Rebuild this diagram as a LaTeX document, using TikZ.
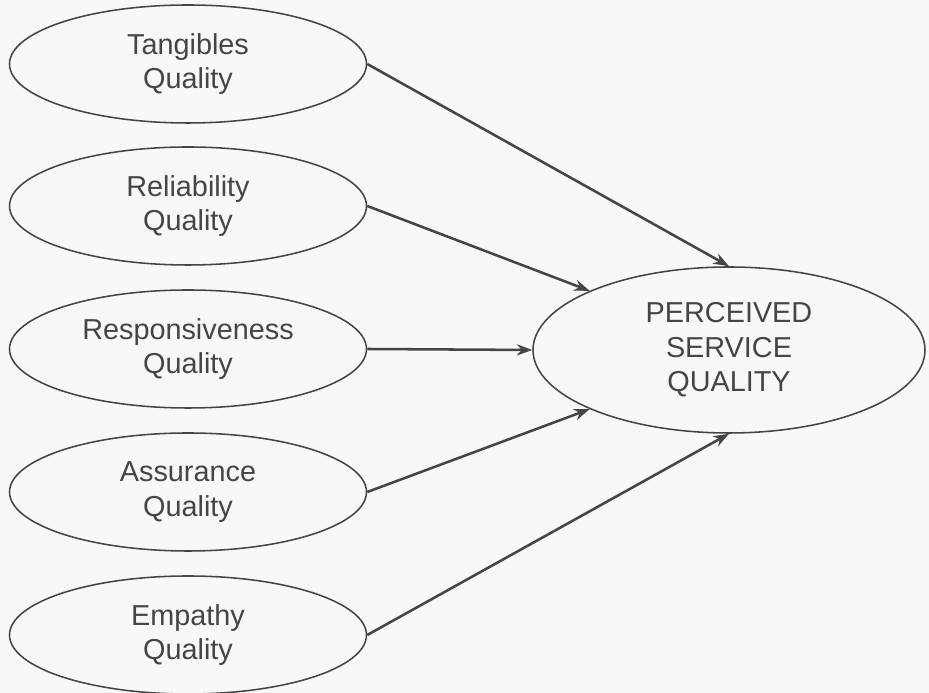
\documentclass[tikz,border=0pt]{standalone}
\usepackage{fontspec}
\setmainfont{Liberation Sans}
\usepackage{xcolor}
\usepackage{tikz}
\usetikzlibrary{shapes.geometric,arrows.meta}

\definecolor{inkgray}{HTML}{454545}
\definecolor{papergray}{HTML}{F8F8F6}

\begin{document}
\begin{tikzpicture}[
    every node/.style={font=\fontsize{20.5}{24.5}\selectfont, text=inkgray, align=center},
    dimbox/.style={ellipse, draw=inkgray, line width=1.1pt, inner sep=0pt,
        minimum width=8.925cm, minimum height=2.95cm},
    mainbox/.style={ellipse, draw=inkgray, line width=1.1pt, inner sep=0pt,
        minimum width=9.8cm, minimum height=4.15cm},
    link/.style={draw=inkgray, line width=1.8pt, -{Stealth[length=11pt,width=8pt]}}
]
            \fill[papergray] (0,0) rectangle (23.225,17.325);
            \useasboundingbox (0,0) rectangle (23.225,17.325);
            % Five service dimensions
                        \node[dimbox] (tang) at (4.7,15.725) {Tangibles\\Quality};
                        \node[dimbox] (reli) at (4.7,12.175) {Reliability\\Quality};
                        \node[dimbox] (resp) at (4.7,8.6) {Responsiveness\\Quality};
                        \node[dimbox] (assu) at (4.7,5.025) {Assurance\\Quality};
                        \node[dimbox] (empa) at (4.7,1.45) {Empathy\\Quality};
            % Outcome
                        \node[mainbox] (perc) at (18.225,8.575) {PERCEIVED\\SERVICE\\QUALITY};
            % Paths
                        \draw[link] (tang.east) -- (perc.north);
                        \draw[link] (reli.east) -- (perc.157);
                        \draw[link] (resp.east) -- (perc.west);
                        \draw[link] (assu.east) -- (perc.203);
                        \draw[link] (empa.east) -- (perc.south);
        \end{tikzpicture}
\end{document}
